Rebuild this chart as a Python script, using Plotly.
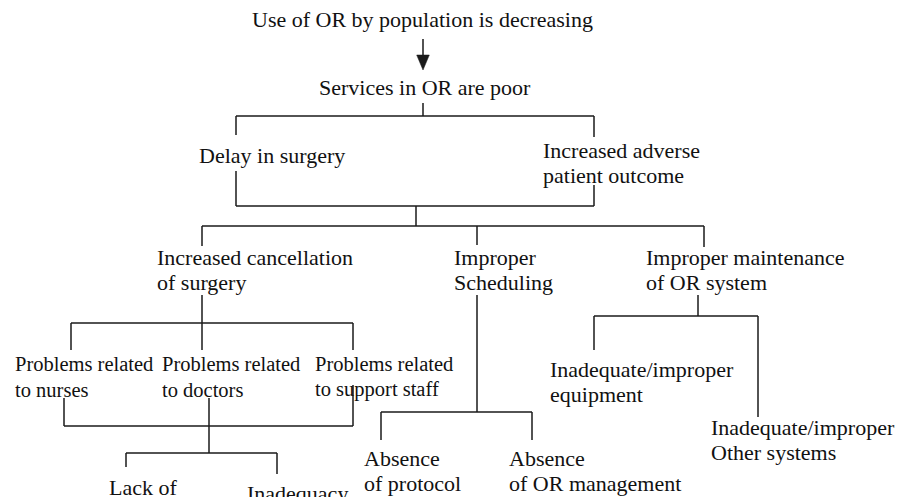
import plotly.graph_objects as go

# ---------------- DATA: tree nodes (labels) and their links ----------------
labels = [
    "Use of OR by population is decreasing",      # 0
    "Services in OR are poor",                     # 1
    "Delay in surgery",                            # 2
    "Increased adverse\npatient outcome",          # 3
    "Increased cancellation\nof surgery",          # 4
    "Improper\nScheduling",                        # 5
    "Improper maintenance\nof OR system",          # 6
    "Problems related\nto nurses",                 # 7
    "Problems related\nto doctors",                # 8
    "Problems related\nto support staff",          # 9
    "Lack of",                                     # 10
    "Inadequacy",                                  # 11
    "Absence\nof protocol",                        # 12
    "Absence\nof OR management",                   # 13
    "Inadequate/improper\nequipment",              # 14
    "Inadequate/improper\nOther systems",          # 15
]
# cause/effect groups: (parents) -> (children); "J1"/"J2" are unlabeled junctions
groups = [
    ([1], [2, 3]),
    ([2, 3], ["J1"]),
    (["J1"], [4, 5, 6]),
    ([4], [7, 8, 9]),
    ([7, 8, 9], ["J2"]),
    (["J2"], [10, 11]),
    ([5], [12, 13]),
    ([6], [14, 15]),
]
arrow_link = (0, 1)

# ---------------- LAYOUT (pixel positions, sizes, styles) ----------------
W, H = 904, 497
PAGE_OFF = 8  # browser's default body margin
FONT = "Liberation Serif, Times New Roman, serif"
INK = "#1a1a1a"

# label placement: left x, centre y of first line, font size
label_pos = {
    0: (250, 19, 22), 1: (317, 87, 22), 2: (197, 155, 22), 3: (541, 150, 22),
    4: (155, 257, 22), 5: (452, 257, 22), 6: (644, 257, 22),
    7: (13, 364, 20.5), 8: (160, 364, 20.5), 9: (313, 364, 20.5),
    10: (107, 487, 22), 11: (245, 493, 22),
    12: (362, 458, 22), 13: (507, 458, 22),
    14: (548, 369, 22), 15: (709, 427, 22),
}
LINE_GAP = 25.5

# connector anchors: top (x, y) where line from above ends, bottom (x, y) where line below starts
top_anchor = {
    2: (236, 135), 3: (594, 137), "J1": (416, 206),
    4: (202, 246), 5: (477, 245), 6: (704, 247),
    7: (71, 350), 8: (202, 350), 9: (353, 350), "J2": (209, 426),
    10: (126, 467), 11: (277, 474), 12: (381, 440), 13: (532, 440),
    14: (594, 350), 15: (758, 417),
}
bot_anchor = {
    1: (423, 103), 2: (236, 171), 3: (594, 185), "J1": (416, 206),
    4: (202, 295), 5: (477, 295), 6: (698, 295),
    7: (64, 398), 8: (209, 398), 9: (353, 385), "J2": (209, 426),
}
bar_y = [116, 206, 226, 323, 426, 453, 412, 316]
arrow_geom = dict(x=423, y0=39, y1=70, head=15, half_w=6.3)

# ---------------- BUILD ----------------
xs, ys = [], []
for (par, chi), by in zip(groups, bar_y):
    pts = []
    for p in par:
        bx, byy = bot_anchor[p]
        xs += [bx, bx, None]; ys += [byy, by, None]
        pts.append(bx)
    for c in chi:
        tx, ty = top_anchor[c]
        xs += [tx, tx, None]; ys += [by, ty, None]
        pts.append(tx)
    xs += [min(pts), max(pts), None]; ys += [by, by, None]

fig = go.Figure()
fig.add_trace(go.Scatter(x=xs, y=ys, mode="lines", line=dict(color=INK, width=1.5),
                         hoverinfo="skip", showlegend=False))

# arrow from node 0 to node 1
ax_, ay0, ay1 = arrow_geom["x"], arrow_geom["y0"], arrow_geom["y1"]
hl, hw = arrow_geom["head"], arrow_geom["half_w"]
fig.add_trace(go.Scatter(x=[ax_, ax_], y=[ay0, ay1 - hl + 1], mode="lines",
                         line=dict(color=INK, width=1.5), hoverinfo="skip", showlegend=False))
fig.add_trace(go.Scatter(x=[ax_ - hw, ax_ + hw, ax_, ax_ - hw],
                         y=[ay1 - hl, ay1 - hl, ay1, ay1 - hl],
                         mode="lines", fill="toself", fillcolor=INK,
                         line=dict(color=INK, width=0.5), hoverinfo="skip", showlegend=False))

for i, lab in enumerate(labels):
    lx, ly, fs = label_pos[i]
    for k, line in enumerate(lab.split("\n")):
        fig.add_annotation(x=lx, y=ly + k * LINE_GAP, xref="x", yref="y", text=line,
                           showarrow=False, xanchor="left", yanchor="middle",
                           font=dict(family=FONT, size=fs, color="#111111"))

fig.update_xaxes(range=[PAGE_OFF, W], visible=False, fixedrange=True)
fig.update_yaxes(range=[H, PAGE_OFF], visible=False, fixedrange=True)
fig.update_layout(width=W - PAGE_OFF, height=H - PAGE_OFF, margin=dict(l=0, r=0, t=0, b=0),
                  paper_bgcolor="white", plot_bgcolor="white", showlegend=False)

fig.write_html("out.html")
